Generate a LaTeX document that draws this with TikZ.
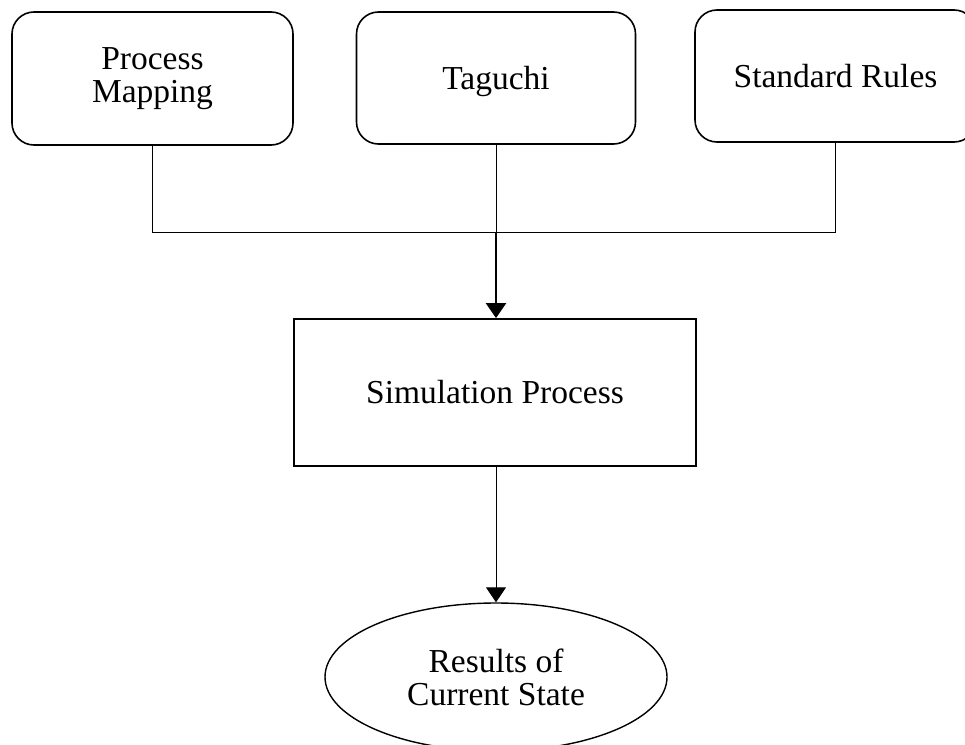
\documentclass[tikz,border=0pt]{standalone}
\usepackage{fontspec}
\setmainfont{Liberation Serif}
\usetikzlibrary{arrows.meta,shapes.geometric}
\tikzset{
  topbox/.style={draw, line width=1.6pt, rounded corners=22pt, align=center,
    minimum width=281pt, minimum height=133pt, inner sep=0pt},
  simbox/.style={draw, line width=1.8pt, minimum width=402pt, minimum height=147pt},
  resultell/.style={draw, ellipse, line width=1.4pt, align=center,
    minimum width=342pt, minimum height=148pt, inner sep=0pt},
  link/.style={line width=0.9pt},
  flow/.style={line width=1pt, -{Triangle[width=20pt,length=15pt]}}
}
\begin{document}
\begin{tikzpicture}[x=1pt, y=-1pt, font=\fontsize{33.5}{33}\selectfont]
    \useasboundingbox (0,0) rectangle (965,744);

    % the three inputs
    \node [topbox] (pm) at (152.5,78.5) {Process\\Mapping};
    \node [topbox, minimum width=279pt, minimum height=132pt, text depth=0pt] (tg) at (496,78) {Taguchi};
    \node [topbox, minimum height=132pt] (sr) at (835.5,76) {Standard Rules};

    % process and result
    \node [simbox] (sim) at (495,392.5) {Simulation Process};
    \node [resultell] (res) at (496,677) {Results of\\Current State};

    % connectors
    \coordinate (join) at (tg.south |- 0,232);
    \draw [link] (pm.south) -- (pm.south |- join) -| (sr.south);
    \draw [link] (tg.south) -- (join);
    \draw [line width=2.6pt, -{Triangle[width=20pt,length=15pt]}] (join) -- (join |- sim.north);
    \draw [flow] (join |- sim.south) -- (join |- res.north);
\end{tikzpicture}
\end{document}
